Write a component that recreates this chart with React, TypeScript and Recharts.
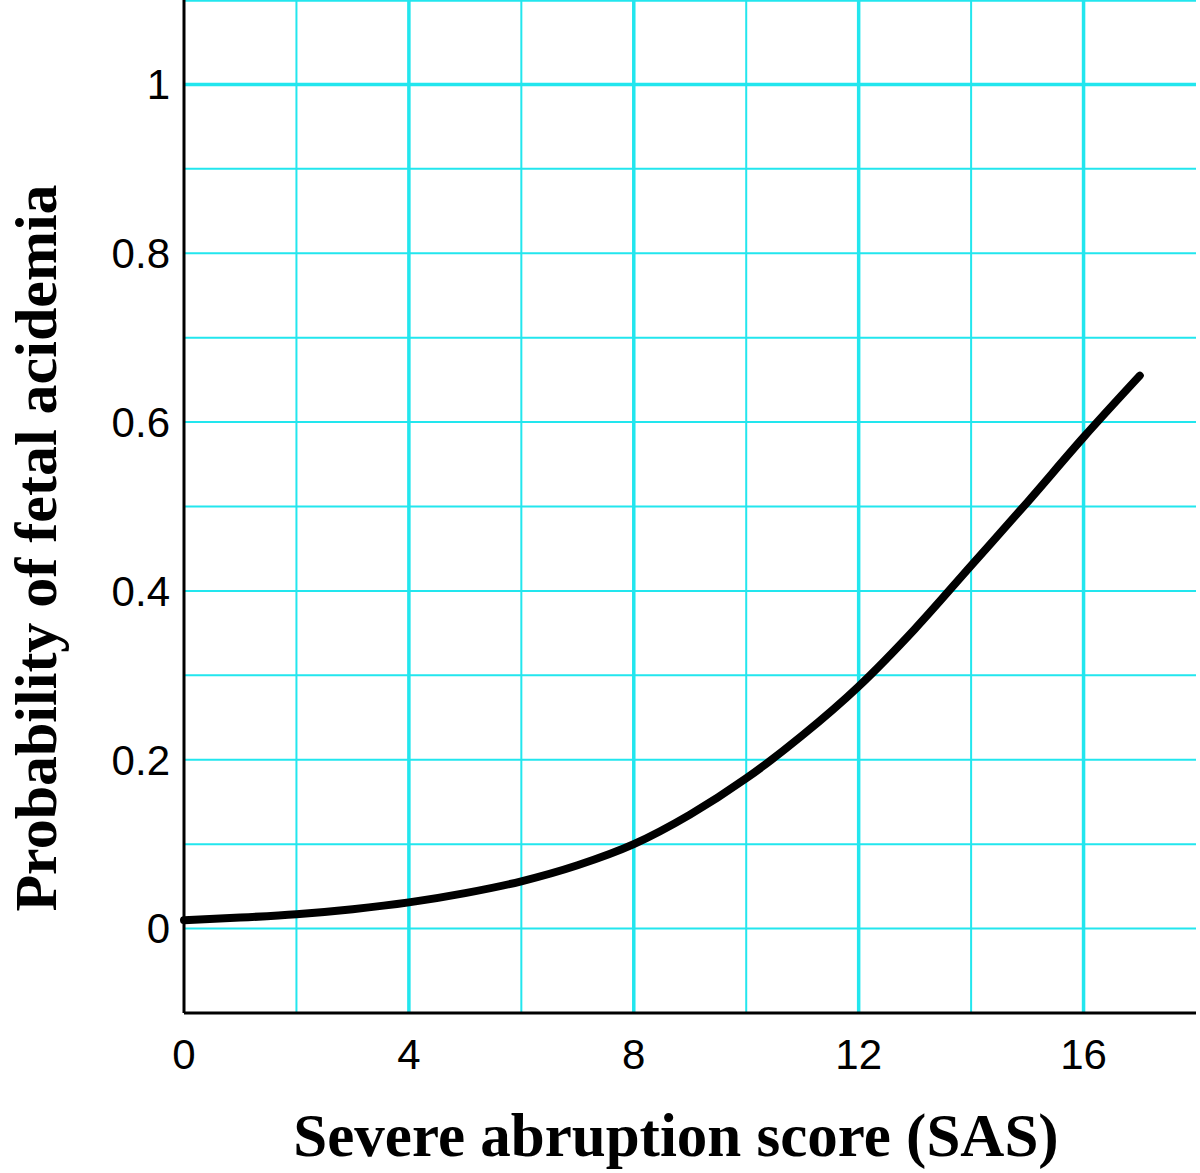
import React from 'react';
import { LineChart, Line, XAxis, YAxis, ReferenceLine, Label } from 'recharts';

// severe abruption score (SAS)
const scores = [0, 1, 2, 3, 4, 5, 6, 7, 8, 9, 10, 11, 12, 13, 14, 15, 16, 17];
// probability of fetal acidemia
const probability = [
  0.010, 0.013, 0.017, 0.023, 0.031, 0.042, 0.056, 0.075, 0.100,
  0.135, 0.178, 0.229, 0.287, 0.355, 0.430, 0.505, 0.582, 0.655,
];

const xTicks = [0, 4, 8, 12, 16];
const yTicks = [0, 0.2, 0.4, 0.6, 0.8, 1];
const xGridMajor = [4, 8, 12, 16];
const xGridMinor = [2, 6, 10, 14];
const yGridMajor = [1, 1.1];
const yGridMinor = [0, 0.1, 0.2, 0.3, 0.4, 0.5, 0.6, 0.7, 0.8, 0.9];

const data = scores.map((s, i) => ({ sas: s, p: probability[i] }));

const CYAN = '#22E6EE';
const tickStyle = { fill: '#000', fontFamily: 'Liberation Sans, Arial, sans-serif', fontSize: 42 };
const titleFont = 'Liberation Serif, Times New Roman, serif';

const App: React.FC = () => {
  return (
    <div style={{ width: 1200, height: 1173, background: '#fff' }}>
      <style>{'body{margin:0;}'}</style>
      <LineChart width={1200} height={1173} data={data} margin={{ top: 0, right: 4, left: 0, bottom: 0 }}>
        {yGridMinor.map((v) => (
          <ReferenceLine key={'ym' + v} y={v} stroke={CYAN} strokeWidth={2} />
        ))}
        {yGridMajor.map((v) => (
          <ReferenceLine key={'yM' + v} y={v} stroke={CYAN} strokeWidth={3.5} />
        ))}
        {xGridMinor.map((v) => (
          <ReferenceLine key={'xm' + v} x={v} stroke={CYAN} strokeWidth={2} />
        ))}
        {xGridMajor.map((v) => (
          <ReferenceLine key={'xM' + v} x={v} stroke={CYAN} strokeWidth={3.5} />
        ))}
        <XAxis
          dataKey="sas"
          type="number"
          domain={[0, 18]}
          ticks={xTicks}
          height={160}
          axisLine={{ stroke: '#000', strokeWidth: 3 }}
          tickLine={false}
          tickMargin={20}
          tick={tickStyle}
        >
          <Label
            content={() => (
              <text x={676} y={1156} textAnchor="middle" fontFamily={titleFont} fontWeight="bold" fontSize={61} fill="#000">
                Severe abruption score (SAS)
              </text>
            )}
          />
        </XAxis>
        <YAxis
          type="number"
          domain={[-0.1, 1.1]}
          ticks={yTicks}
          width={184}
          axisLine={{ stroke: '#000', strokeWidth: 3 }}
          tickLine={false}
          tickMargin={8}
          tick={tickStyle}
        >
          <Label
            content={() => (
              <text x={56} y={548} transform="rotate(-90 56 548)" textAnchor="middle" fontFamily={titleFont} fontWeight="bold" fontSize={60} fill="#000">
                Probability of fetal acidemia
              </text>
            )}
          />
        </YAxis>
        <Line
          type="monotone"
          dataKey="p"
          stroke="#000"
          strokeWidth={8}
          strokeLinecap="round"
          dot={false}
          isAnimationActive={false}
        />
      </LineChart>
    </div>
  );
};

export default App;
